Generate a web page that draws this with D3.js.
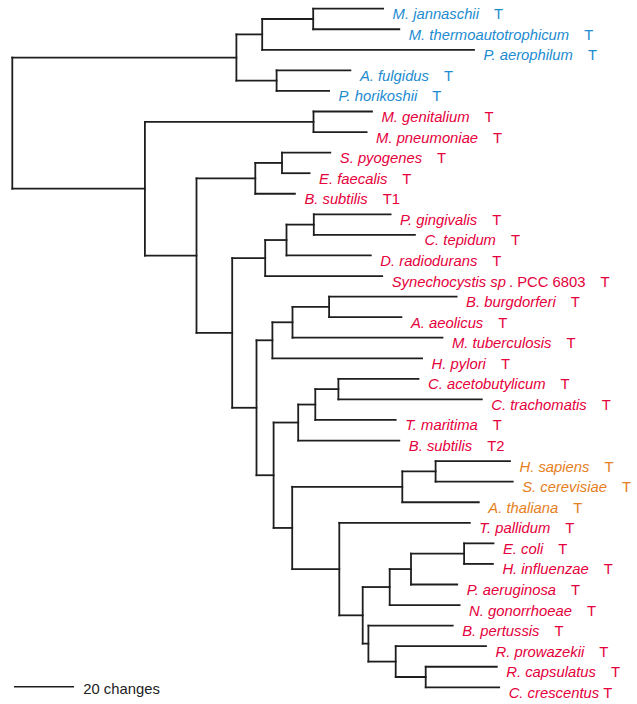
<!DOCTYPE html>
<html>
<head>
<meta charset="utf-8">
<script src="https://cdn.jsdelivr.net/npm/d3@7"></script>
<style>
  html, body { margin: 0; padding: 0; background: #fff; }
  svg { display: block; }
  text { font-family: "Liberation Sans", Arial, Helvetica, sans-serif; }
</style>
</head>
<body>
<svg id="chart" width="637" height="704"></svg>
<script>
// ---- Data ----
// Internal nodes of the tree: id, parent, branch length (in changes)
const internalIds = ["R","A","A1","A11","A2","B","M","B1","F","F1","B2","C","C1","C11","B3","P","P1","P11","B4","T","T1","T11","B5","E","E1","Q","Q1","Q2","Q21","Q211","Q3","Q31","Q311"];
const internalParents = ["","R","A","A1","A","R","B","B","B1","F","B1","B2","C","C1","B2","B3","P","P1","B3","B4","T","T1","B4","B5","E","B5","Q","Q1","Q2","Q21","Q1","Q3","Q31"];
const internalLengths = [0,74.7,8.6,17.0,13.4,44.2,56.2,17.2,19.6,8.9,11.9,11.0,7.1,9.1,8.1,5.3,6.7,12.2,5.7,8.2,5.7,7.7,6.2,36.7,11.1,15.7,7.8,9.0,7.1,17.7,1.9,9.1,10.0];

// Leaves (top to bottom)
const leafNames = ["M. jannaschii","M. thermoautotrophicum","P. aerophilum","A. fulgidus","P. horikoshii",
  "M. genitalium","M. pneumoniae","S. pyogenes","E. faecalis","B. subtilis",
  "P. gingivalis","C. tepidum","D. radiodurans","Synechocystis sp","B. burgdorferi",
  "A. aeolicus","M. tuberculosis","H. pylori","C. acetobutylicum","C. trachomatis",
  "T. maritima","B. subtilis","H. sapiens","S. cerevisiae","A. thaliana",
  "T. pallidum","E. coli","H. influenzae","P. aeruginosa","N. gonorrhoeae",
  "B. pertussis","R. prowazekii","R. capsulatus","C. crescentus"];
const leafNameExtras = ["","","","","","","","","","","","","",". PCC 6803","","","","","","","","","","","","","","","","","","","",""];
const leafSuffixes = ["T","T","T","T","T","T","T","T","T","T1","T","T","T","T","T","T","T","T","T","T","T","T2","T","T","T","T","T","T","T","T","T","T","T","T"];
const leafDomains = ["Archaea","Archaea","Archaea","Archaea","Archaea",
  "Bacteria","Bacteria","Bacteria","Bacteria","Bacteria","Bacteria","Bacteria","Bacteria","Bacteria","Bacteria",
  "Bacteria","Bacteria","Bacteria","Bacteria","Bacteria","Bacteria","Bacteria",
  "Eukarya","Eukarya","Eukarya",
  "Bacteria","Bacteria","Bacteria","Bacteria","Bacteria","Bacteria","Bacteria","Bacteria","Bacteria"];
const leafParents = ["A11","A11","A1","A2","A2","M","M","F1","F1","F","C11","C11","C1","C","P11","P11","P1","P","T11","T11","T1","T","E1","E1","E","Q","Q211","Q211","Q21","Q2","Q3","Q31","Q311","Q311"];
const leafLengths = [23.3,28.7,70.6,24.6,17.5,19.5,17.7,16.1,9.2,13.2,25.6,33.7,28.1,39.0,42.5,24.1,50.0,49.9,26.7,47.8,26.8,33.7,24.8,25.7,25.5,43.5,9.8,9.6,15.4,23.3,28.1,30.1,23.7,24.5];
const tightSuffixLeaves = ["C. crescentus"];
const scaleBarChanges = 20;
const scaleBarLabel = "20 changes";

// ---- Styles ----
const domainColor = { Archaea: "#1c8bd0", Bacteria: "#e5003c", Eukarya: "#e67e22" };
const lineColor = "#1e1e1e";
const fontSize = 14.8;

// ---- Build tree ----
const rows = internalIds.map((id, i) => ({ id, parent: internalParents[i] || null, len: internalLengths[i], leaf: -1 }))
  .concat(leafNames.map((n, i) => ({ id: "leaf" + i, parent: leafParents[i], len: leafLengths[i], leaf: i })));

const root = d3.stratify().id(d => d.id).parentId(d => d.parent)(rows);
root.eachAfter(n => {
  n.minLeaf = n.data.leaf >= 0 ? n.data.leaf : d3.min(n.children, c => c.minLeaf);
});
root.sort((a, b) => a.minLeaf - b.minLeaf);
root.eachBefore(n => { n.depthLen = n.parent ? n.parent.depthLen + n.data.len : 0; });

const x = d3.scaleLinear().domain([0, 200]).range([12.3, 612.3]);
const y = d3.scaleLinear().domain([0, leafNames.length - 1]).range([8.7, 687.3]);

root.eachAfter(n => {
  if (n.children) {
    n.yy = (n.children[0].yy + n.children[n.children.length - 1].yy) / 2;
  } else {
    n.yy = y(n.data.leaf);
  }
  n.xx = x(n.depthLen);
});

const svg = d3.select("#chart");
const g = svg.append("g");

// horizontal branches
g.selectAll("line.h").data(root.descendants().filter(n => n.parent)).join("line")
  .attr("class", "h")
  .attr("x1", d => d.parent.xx).attr("x2", d => d.xx)
  .attr("y1", d => d.yy).attr("y2", d => d.yy)
  .attr("stroke", lineColor).attr("stroke-width", 1.8).attr("stroke-linecap", "square");

// vertical connectors
g.selectAll("line.v").data(root.descendants().filter(n => n.children)).join("line")
  .attr("class", "v")
  .attr("x1", d => d.xx).attr("x2", d => d.xx)
  .attr("y1", d => d.children[0].yy).attr("y2", d => d.children[d.children.length - 1].yy)
  .attr("stroke", lineColor).attr("stroke-width", 1.8).attr("stroke-linecap", "square");

// labels
const leaves = root.leaves();
const labels = g.selectAll("text.leaf").data(leaves).join("text")
  .attr("class", "leaf")
  .attr("x", d => d.xx + 9.5)
  .attr("y", d => d.yy + 10.5)
  .attr("font-size", fontSize)
  .attr("fill", d => domainColor[leafDomains[d.data.leaf]])
  .attr("xml:space", "preserve");

labels.append("tspan").attr("font-style", "italic").text(d => leafNames[d.data.leaf]);
labels.filter(d => leafNameExtras[d.data.leaf]).append("tspan").attr("dx", 3).text(d => leafNameExtras[d.data.leaf]);
labels.append("tspan")
  .attr("dx", d => tightSuffixLeaves.includes(leafNames[d.data.leaf]) ? 4 : 15)
  .text(d => leafSuffixes[d.data.leaf]);

// scale bar
const sbY = 686.7, sbX0 = 14;
g.append("line")
  .attr("x1", sbX0).attr("x2", sbX0 + x(scaleBarChanges) - x(0))
  .attr("y1", sbY).attr("y2", sbY)
  .attr("stroke", lineColor).attr("stroke-width", 1.6);
g.append("text")
  .attr("x", 83.3).attr("y", sbY + 7.5)
  .attr("font-size", fontSize).attr("fill", "#222")
  .text(scaleBarLabel);
</script>
</body>
</html>
